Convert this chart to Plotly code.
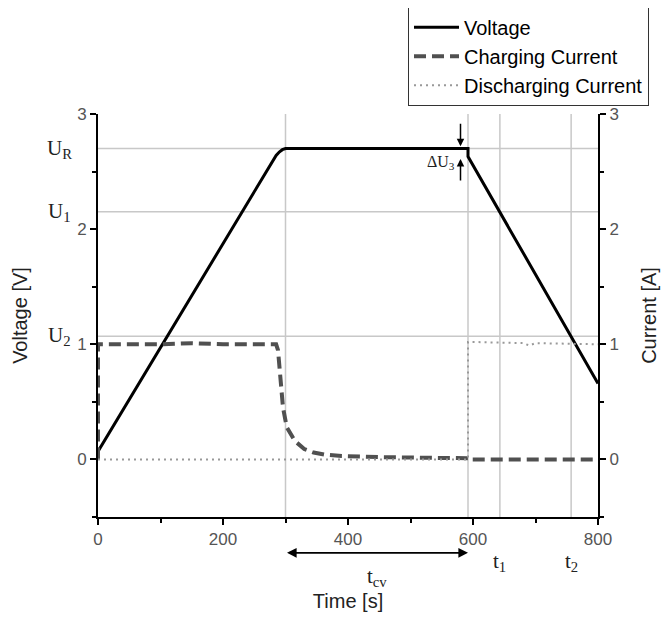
import plotly.graph_objects as go

# ---- data ----
t_voltage = [0, 100, 200, 280, 285, 290, 295, 300, 320, 400, 500, 592, 592, 700, 800]
voltage = [0.07, 0.97, 1.88, 2.60, 2.64, 2.67, 2.69, 2.70, 2.70, 2.70, 2.70, 2.70, 2.63, 1.61, 0.66]

t_charge = [0, 0, 50, 100, 150, 200, 250, 285, 288, 292, 296, 302, 315, 330, 345, 365, 390, 450, 520, 592, 592, 650, 800]
i_charge = [0.0, 1.0, 1.0, 1.0, 1.01, 1.0, 1.0, 1.0, 0.95, 0.70, 0.45, 0.28, 0.16, 0.09, 0.06, 0.04, 0.03, 0.02, 0.015, 0.01, 0.0, 0.0, 0.0]

t_dis = [0, 592, 592, 600, 680, 690, 700, 800]
i_dis = [0.0, 0.0, 1.02, 1.02, 1.01, 0.99, 1.01, 1.0]

u_levels = [2.70, 2.15, 1.07]
u_labels = ["U<sub>R</sub>", "U<sub>1</sub>", "U<sub>2</sub>"]
t_marks = [300, 592, 643, 757]
t_labels = ["t<sub>1</sub>", "t<sub>2</sub>"]
t_label_pos = [643, 757]
t_cv = [300, 592]
du3_time = 580

x_ticks = [0, 200, 400, 600, 800]
y_ticks = [0, 1, 2, 3]
Y_MIN, Y_MAX = -0.5, 3
X_MIN, X_MAX = 0, 800

SANS = "Liberation Sans, Arial, sans-serif"
SERIF = "Liberation Serif, DejaVu Serif, serif"


def ypaper(v):
    return (v - Y_MIN) / (Y_MAX - Y_MIN)


fig = go.Figure()

fig.add_trace(go.Scatter(x=t_voltage, y=voltage, mode="lines", name="Voltage",
                         line=dict(color="black", width=3), yaxis="y"))
fig.add_trace(go.Scatter(x=t_charge, y=i_charge, mode="lines", name="Charging Current",
                         line=dict(color="#505050", width=4, dash="12px,6px"), yaxis="y2"))
fig.add_trace(go.Scatter(x=t_dis, y=i_dis, mode="lines", name="Discharging Current",
                         line=dict(color="#999999", width=2, dash="2px,4px"), yaxis="y2"))

shapes = []
for u in u_levels:
    shapes.append(dict(type="line", xref="x", yref="y", x0=X_MIN, x1=X_MAX, y0=u, y1=u,
                       line=dict(color="#c8c8c8", width=1.5), layer="below"))
for t in t_marks:
    shapes.append(dict(type="line", xref="x", yref="y", x0=t, x1=t, y0=Y_MIN, y1=Y_MAX,
                       line=dict(color="#c8c8c8", width=1.5), layer="below"))

annotations = []
for u, lab in zip(u_levels, u_labels):
    annotations.append(dict(x=-0.078, y=ypaper(u), xref="paper", yref="paper", text=lab, showarrow=False,
                            font=dict(family=SERIF, size=21, color="#222"), xanchor="center", yanchor="middle"))
for t, lab in zip(t_label_pos, t_labels):
    annotations.append(dict(x=t, y=-0.112, xref="x", yref="paper", text=lab, showarrow=False,
                            font=dict(family=SERIF, size=21, color="#222"), xanchor="center",
                            yanchor="middle"))
# t_cv double arrow
annotations.append(dict(x=t_cv[1], y=-0.089, ax=t_cv[0], ay=0, xref="x", yref="paper",
                        axref="x", text="", showarrow=True, arrowhead=2,
                        arrowside="end+start", arrowsize=1.2, arrowwidth=1.6, arrowcolor="black"))
annotations.append(dict(x=sum(t_cv) / 2, y=-0.148, xref="x", yref="paper", text="t<sub>cv</sub>",
                        showarrow=False, font=dict(family=SERIF, size=21, color="#222"),
                        yanchor="middle"))
# Delta U3
annotations.append(dict(x=du3_time, y=2.72, xref="x", yref="y", ax=0, ay=-24, text="",
                        showarrow=True, arrowhead=2, arrowsize=1, arrowwidth=1.5, arrowcolor="black"))
annotations.append(dict(x=du3_time, y=2.61, xref="x", yref="y", ax=0, ay=23, text="",
                        showarrow=True, arrowhead=2, arrowsize=1, arrowwidth=1.5, arrowcolor="black"))
annotations.append(dict(x=du3_time - 6, y=2.58, xref="x", yref="y", text="\u0394U<sub>3</sub>",
                        showarrow=False, font=dict(family=SERIF, size=16, color="#222"),
                        xanchor="right", yanchor="middle"))

axis_common = dict(showgrid=False, zeroline=False, showline=True, linecolor="black", linewidth=2,
                   ticks="outside", ticklen=6, tickwidth=1.5, tickcolor="black", automargin=False,
                   tickfont=dict(family=SANS, size=17, color="#555"))

# The page body has an 8px margin, so the figure is drawn 8px in from the window corner.
fig.update_layout(
    width=664, height=609,
    margin=dict(l=90, r=74, t=106, b=100, autoexpand=False),
    plot_bgcolor="white", paper_bgcolor="white",
    showlegend=True,
    legend=dict(x=0.62, y=1.266, xanchor="left", yanchor="top", bgcolor="white",
                bordercolor="#333", borderwidth=1, font=dict(family=SANS, size=20, color="black"),
                tracegroupgap=0, itemwidth=45),
    xaxis=dict(range=[X_MIN, X_MAX], tickvals=x_ticks,
               minor=dict(ticks="outside", ticklen=4, dtick=100, tickcolor="black", tickwidth=1.5),
               title=dict(text="Time [s]", font=dict(family=SANS, size=20, color="#222"), standoff=46),
               **axis_common),
    yaxis=dict(range=[Y_MIN, Y_MAX], tickvals=y_ticks,
               minor=dict(ticks="outside", ticklen=4, dtick=0.5, tickcolor="black", tickwidth=1.5),
               title=dict(text="Voltage [V]", font=dict(family=SANS, size=20, color="#222"), standoff=44),
               **axis_common),
    yaxis2=dict(range=[Y_MIN, Y_MAX], tickvals=y_ticks, overlaying="y", side="right",
                minor=dict(ticks="outside", ticklen=4, dtick=0.5, tickcolor="black", tickwidth=1.5),
                title=dict(text="Current [A]", font=dict(family=SANS, size=20, color="#222"), standoff=24),
                **axis_common),
    shapes=shapes,
    annotations=annotations,
)

fig.write_html("out.html")
